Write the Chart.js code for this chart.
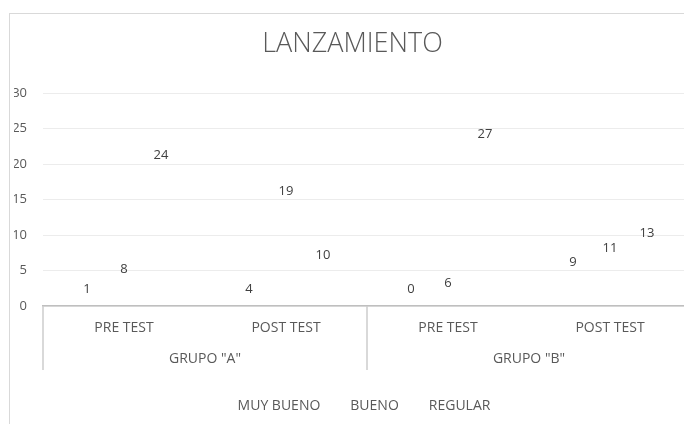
<!DOCTYPE html>
<html><head><meta charset="utf-8">
<script src="https://cdn.jsdelivr.net/npm/chart.js@4/dist/chart.umd.min.js"></script>
<style>
html,body{margin:0;padding:0;overflow:hidden;background:#fff;width:684px;height:424px}
#frame{position:absolute;left:9px;top:13px;width:900px;height:600px;border:1px solid #d9d9d9;box-sizing:border-box}
#wrap{position:absolute;left:0;top:0;width:700px;height:424px}
</style></head><body>
<div id="frame"></div>
<div id="wrap"><canvas id="c" width="700" height="424"></canvas></div>
<script>
const chartTitle = 'LANZAMIENTO';
const groups = ['GRUPO "A"', 'GRUPO "B"'];
const categories = ['PRE TEST', 'POST TEST', 'PRE TEST', 'POST TEST'];
const seriesNames = ['MUY BUENO', 'BUENO', 'REGULAR'];
const muyBueno = [1, 4, 0, 9];
const bueno = [8, 19, 6, 11];
const regular = [24, 10, 27, 13];
const yMin = 0, yMax = 30, yStep = 5;

const FONT = '"Open Sans", "DejaVu Sans", sans-serif';

const valueLabels = {
  id: 'valueLabels',
  afterDatasetsDraw(chart) {
    const ctx = chart.ctx, base = chart.chartArea.bottom;
    ctx.save();
    ctx.font = '13px ' + FONT;
    ctx.fillStyle = '#404040';
    ctx.textAlign = 'center';
    ctx.textBaseline = 'middle';
    chart.data.datasets.forEach((ds, di) => {
      chart.getDatasetMeta(di).data.forEach((bar, i) => {
        const y = Math.min(bar.y + 20, base - 17);
        ctx.fillText(String(ds.data[i]), bar.x, y);
      });
    });
    ctx.restore();
  }
};

const groupAxis = {
  id: 'groupAxis',
  afterDraw(chart) {
    const x = chart.scales.x, ctx = chart.ctx;
    const top = chart.chartArea.bottom;
    const p = i => x.getPixelForValue(i);
    const w = p(1) - p(0);
    const edges = [p(0) - w / 2, p(2) - w / 2, p(3) + w / 2];
    ctx.save();
    ctx.strokeStyle = '#cccccc';
    ctx.lineWidth = 1.5;
    edges.forEach(e => {
      ctx.beginPath();
      ctx.moveTo(e, top);
      ctx.lineTo(e, top + 64);
      ctx.stroke();
    });
    ctx.font = '14px ' + FONT;
    ctx.fillStyle = '#595959';
    ctx.textAlign = 'center';
    ctx.textBaseline = 'middle';
    groups.forEach((g, gi) => {
      const cx = (p(gi * 2) + p(gi * 2 + 1)) / 2;
      ctx.fillText(g, cx, top + 53);
    });
    ctx.restore();
  }
};

const mk = (label, data) => ({
  label, data,
  backgroundColor: 'rgba(0,0,0,0)',
  borderColor: 'rgba(0,0,0,0)',
  borderWidth: 0,
  categoryPercentage: 0.685,
  barPercentage: 0.8
});

new Chart(document.getElementById('c'), {
  type: 'bar',
  data: {
    labels: categories,
    datasets: [mk(seriesNames[0], muyBueno), mk(seriesNames[1], bueno), mk(seriesNames[2], regular)]
  },
  options: {
    responsive: false,
    animation: false,
    events: [],
    layout: { padding: { left: 14, right: 9, top: 0, bottom: 1 } },
    plugins: {
      tooltip: { enabled: false },
      title: {
        display: true,
        text: chartTitle,
        color: '#595959',
        font: { family: FONT, size: 27, weight: '300' },
        padding: { top: 28, bottom: 32.6 }
      },
      legend: {
        position: 'bottom',
        labels: {
          boxWidth: 16,
          padding: 7,
          color: '#595959',
          font: { family: FONT, size: 14 }
        }
      }
    },
    scales: {
      x: {
        grid: { display: false },
        border: { display: true, color: '#bfbfbf', width: 1.5 },
        ticks: { color: '#595959', font: { family: FONT, size: 14 }, padding: 6, maxRotation: 0 },
        afterFit: s => { s.height = 86; }
      },
      y: {
        min: yMin, max: yMax,
        grid: { color: '#ececec', drawTicks: false },
        border: { display: false },
        ticks: { stepSize: yStep, color: '#595959', font: { family: FONT, size: 13 }, padding: 16 },
        afterFit: s => { s.width = 29; }
      }
    }
  },
  plugins: [valueLabels, groupAxis]
});
</script>
</body></html>
